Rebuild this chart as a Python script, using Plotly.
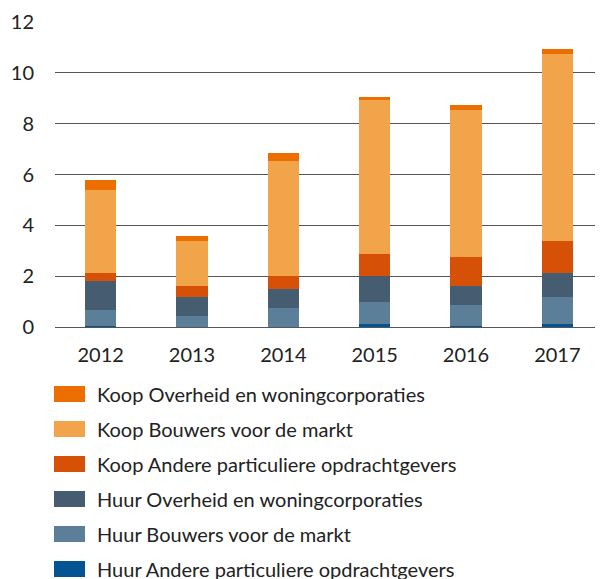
import plotly.graph_objects as go

years = ["2012", "2013", "2014", "2015", "2016", "2017"]

# stacked from bottom to top
huur_andere = [0.02, 0.0, 0.0, 0.12, 0.03, 0.12]
huur_bouwers = [0.65, 0.43, 0.75, 0.86, 0.84, 1.06]
huur_overheid = [1.14, 0.75, 0.75, 1.03, 0.74, 0.95]
koop_andere = [0.32, 0.43, 0.51, 0.86, 1.15, 1.26]
koop_bouwers = [3.26, 1.79, 4.53, 6.07, 5.78, 7.36]
koop_overheid = [0.40, 0.18, 0.31, 0.12, 0.20, 0.19]

series = [
    ("Huur Andere particuliere opdrachtgevers", huur_andere, "#045493"),
    ("Huur Bouwers voor de markt", huur_bouwers, "#5b7f99"),
    ("Huur Overheid en woningcorporaties", huur_overheid, "#465c70"),
    ("Koop Andere particuliere opdrachtgevers", koop_andere, "#d75007"),
    ("Koop Bouwers voor de markt", koop_bouwers, "#f2a44b"),
    ("Koop Overheid en woningcorporaties", koop_overheid, "#ec6e00"),
]

FONT = "Lato"

fig = go.Figure()
for name, vals, color in series:
    fig.add_trace(go.Bar(x=years, y=vals, name=name, marker_color=color,
                         marker_line_width=0, showlegend=False))

# legend drawn by hand so the swatches can be wide rectangles
for i, (name, vals, color) in enumerate(reversed(series)):
    off = 67 + 35 * i
    fig.add_shape(type="rect", xref="paper", yref="paper",
                  xsizemode="pixel", ysizemode="pixel",
                  xanchor=0, yanchor=0,
                  x0=-1, x1=30, y0=-off - 8, y1=-off + 8,
                  fillcolor=color, line_width=0)
    fig.add_annotation(text=name, xref="paper", yref="paper", x=0, y=0,
                       xanchor="left", yanchor="middle", xshift=40, yshift=-off,
                       showarrow=False, font=dict(family=FONT, size=20, color="#222"))

# the page body adds an 8px margin, so the figure is made 8px smaller
fig.update_layout(
    width=595, height=571,
    margin=dict(l=47, r=0, t=14, b=252),
    barmode="stack", bargap=0.66,
    plot_bgcolor="white", paper_bgcolor="white",
    font=dict(family=FONT, size=20, color="#222"),
    xaxis=dict(showgrid=False, ticks="", showline=False, automargin=False,
               ticklabelstandoff=14),
    yaxis=dict(range=[0, 12], dtick=2, showgrid=True, gridcolor="#555",
               gridwidth=1, zeroline=True, zerolinecolor="#555",
               zerolinewidth=1, ticklabelstandoff=20, automargin=False),
)

fig.write_html("out.html")
